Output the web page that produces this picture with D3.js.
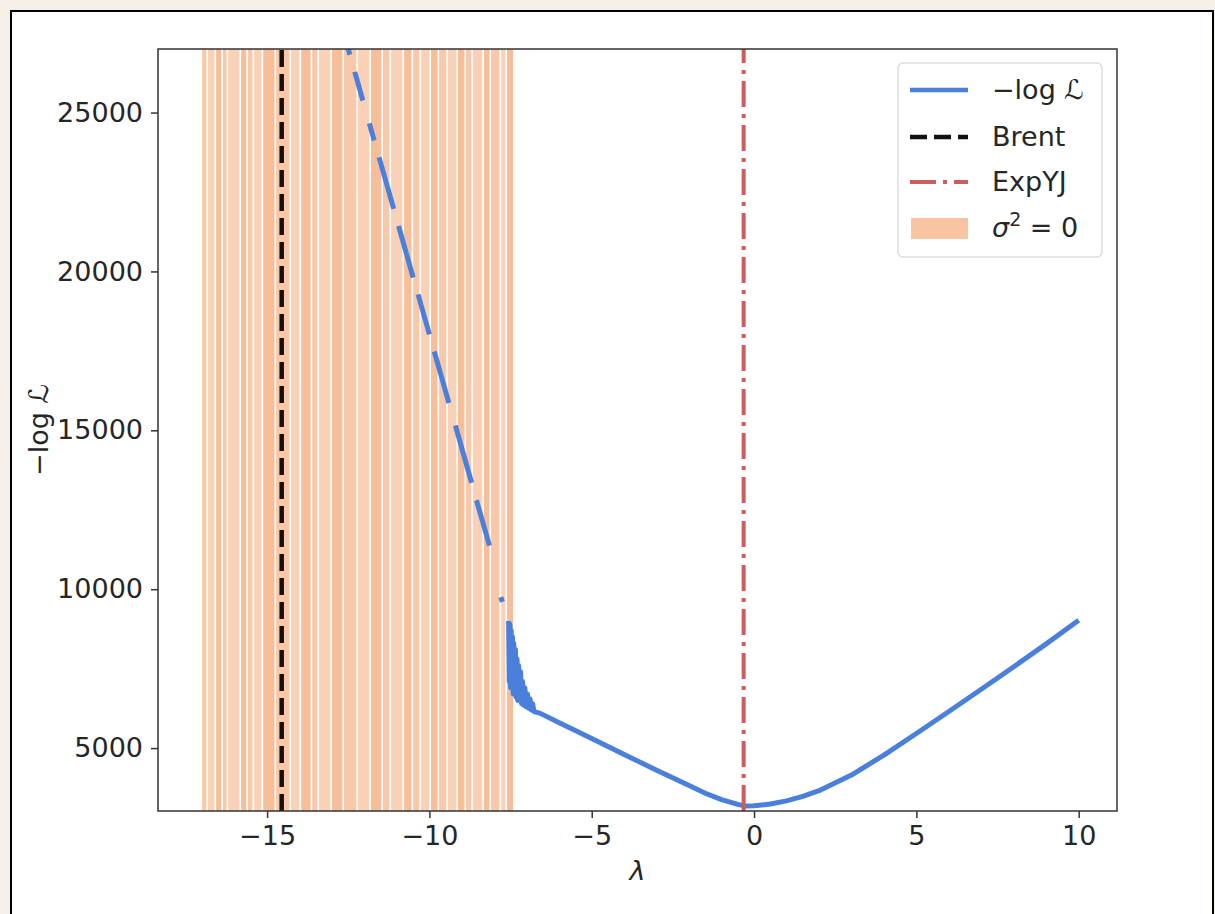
<!DOCTYPE html>
<html lang="en">
<head>
<meta charset="utf-8">
<title>-log L vs lambda</title>
<script src="https://cdn.jsdelivr.net/npm/d3@7"></script>
<style>
  body { margin: 0; background: #f6efe7; }
  text { font-family: "DejaVu Sans", sans-serif; fill: #262626; }
</style>
</head>
<body>
<script>
// lambda grid and -log L values (null = gap in the curve)
var lam = [-12.6, -12.45, null, -12.3, -12.05, null, -11.85, -11.7, null, -11.55, -11.1, null,
  -10.95, -10.5, null, -10.35, -10.0, null, -9.85, -9.4, null, -9.2, -8.7, null, -8.55, -8.15, null,
  -7.8, -7.75, null,
  -7.56, -7.54, -7.52, -7.5, -7.48, -7.46, -7.44, -7.42, -7.4, -7.38, -7.35, -7.33, -7.3, -7.28,
  -7.25, -7.22, -7.19, -7.16, -7.13, -7.1, -7.06, -7.02, -6.98, -6.94, -6.9, -6.86, -6.82, -6.78,
  -6.6, -6.0, -5.0, -4.0, -3.0, -2.0, -1.5, -1.0, -0.5, -0.3, 0.0, 0.5, 1.0, 1.5, 2.0, 3.0, 4.0,
  5.0, 6.0, 7.0, 8.0, 9.0, 10.0];
var nll = [27360, 26820, null, 26280, 25380, null, 24660, 24120, null, 23590, 21970, null,
  21430, 19810, null, 19280, 18020, null, 17480, 15860, null, 15150, 13350, null, 12800, 11370, null,
  9750, 9600, null,
  9000, 7100, 8900, 6900, 8700, 7000, 8500, 6700, 8300, 6800, 8100, 6600, 7800, 6500,
  7600, 6500, 7400, 6400, 7100, 6350, 6900, 6300, 6700, 6250, 6550, 6200, 6400, 6150,
  6100, 5800, 5300, 4800, 4300, 3820, 3580, 3380, 3230, 3180, 3185, 3240, 3340, 3480, 3660, 4150, 4780,
  5460, 6150, 6850, 7560, 8280, 9020];

// regions where sigma^2 = 0 (start, end in lambda)
var bandStart = [-17.0, -16.82, -16.57, -16.36, -16.20, -15.80, -15.59, -15.40, -15.12, -14.72,
  -14.26, -13.95, -13.61, -13.40, -13.00, -12.63, -12.20, -11.80, -11.43, -11.18, -10.78, -10.50,
  -10.26, -9.95, -9.70, -9.43, -9.12, -8.87, -8.66, -8.32, -8.10, -7.79, -7.61];
var bandEnd = [-16.87, -16.62, -16.41, -16.25, -15.85, -15.64, -15.45, -15.17, -14.77, -14.31,
  -14.00, -13.66, -13.45, -13.05, -12.68, -12.25, -11.85, -11.48, -11.23, -10.83, -10.55, -10.31,
  -10.00, -9.75, -9.48, -9.17, -8.92, -8.71, -8.37, -8.15, -7.84, -7.66, -7.42];

var brent = -14.55;
var expYJ = -0.32;

var xTicks = [-15, -10, -5, 0, 5, 10];
var yTicks = [5000, 10000, 15000, 20000, 25000];

var W = 1215, H = 914;
var pLeft = 158, pRight = 1117, pTop = 49, pBottom = 811;

var svg = d3.select("body").append("svg")
  .attr("width", W).attr("height", H);

// white panel with black border
svg.append("rect")
  .attr("x", 11).attr("y", 11).attr("width", 1202).attr("height", 920)
  .attr("fill", "white").attr("stroke", "black").attr("stroke-width", 2);

var x = d3.scaleLinear().domain([-18.36, 11.18]).range([pLeft, pRight]);
var y = d3.scaleLinear().domain([3020, 27000]).range([pBottom, pTop]);

svg.append("clipPath").attr("id", "clip")
  .append("rect").attr("x", pLeft).attr("y", pTop)
  .attr("width", pRight - pLeft).attr("height", pBottom - pTop);

var plot = svg.append("g").attr("clip-path", "url(#clip)");

// orange bands
plot.selectAll("rect.band")
  .data(d3.range(bandStart.length))
  .enter().append("rect")
  .attr("class", "band")
  .attr("x", function(i) { return x(bandStart[i]); })
  .attr("width", function(i) { return x(bandEnd[i]) - x(bandStart[i]); })
  .attr("y", pTop).attr("height", pBottom - pTop)
  .attr("fill", "#f4a46e")
  .attr("opacity", function(i) { return i % 3 == 1 ? 0.5 : (i % 3 == 2 ? 0.7 : 0.6); });

// the curve
var pts = lam.map(function(d, i) { return { x: d, y: nll[i] }; });
var line = d3.line()
  .defined(function(d) { return d.x != null && d.y != null; })
  .x(function(d) { return x(d.x); })
  .y(function(d) { return y(d.y); });

plot.append("path")
  .datum(pts)
  .attr("d", line)
  .attr("fill", "none")
  .attr("stroke", "#4a7fdc")
  .attr("stroke-width", 5)
  .attr("stroke-linejoin", "round");

// Brent
plot.append("line")
  .attr("x1", x(brent)).attr("x2", x(brent))
  .attr("y1", pBottom).attr("y2", pTop)
  .attr("stroke", "#111").attr("stroke-width", 4.5)
  .attr("stroke-dasharray", "17,7");

// ExpYJ
plot.append("line")
  .attr("x1", x(expYJ)).attr("x2", x(expYJ))
  .attr("y1", pBottom).attr("y2", pTop)
  .attr("stroke", "#cd5c5c").attr("stroke-width", 4)
  .attr("stroke-dasharray", "26,7,4,7");

// frame
svg.append("rect")
  .attr("x", pLeft).attr("y", pTop)
  .attr("width", pRight - pLeft).attr("height", pBottom - pTop)
  .attr("fill", "none").attr("stroke", "#333").attr("stroke-width", 1.5);

// axes
var xAxis = svg.append("g")
  .attr("transform", "translate(0," + pBottom + ")")
  .call(d3.axisBottom(x).tickValues(xTicks).tickSize(7).tickPadding(8)
    .tickFormat(function(d) { return d < 0 ? "\u2212" + Math.abs(d) : d; }));
var yAxis = svg.append("g")
  .attr("transform", "translate(" + pLeft + ",0)")
  .call(d3.axisLeft(y).tickValues(yTicks).tickSize(7).tickPadding(8)
    .tickFormat(d3.format("d")));

[xAxis, yAxis].forEach(function(a) {
  a.select(".domain").remove();
  a.selectAll(".tick line").attr("stroke", "#333").attr("stroke-width", 1.5);
  a.selectAll("text").style("font-size", "27px").attr("fill", "#262626");
});

// axis labels
svg.append("text")
  .attr("x", (pLeft + pRight) / 2).attr("y", 880)
  .attr("text-anchor", "middle")
  .style("font-size", "27px").style("font-style", "italic")
  .text("\u03bb");

svg.append("text")
  .attr("transform", "translate(48," + (pTop + pBottom) / 2 + ") rotate(-90)")
  .attr("text-anchor", "middle")
  .style("font-size", "27px")
  .text("\u2212log \u2112");

// legend
var lg = svg.append("g");
lg.append("rect")
  .attr("x", 898).attr("y", 63).attr("width", 204).attr("height", 194)
  .attr("rx", 5).attr("fill", "white").attr("stroke", "#ddd").attr("stroke-width", 1.5);

var ly = [90, 137, 182, 228];
lg.append("line").attr("x1", 910).attr("x2", 968).attr("y1", ly[0]).attr("y2", ly[0])
  .attr("stroke", "#4a7fdc").attr("stroke-width", 4.5);
lg.append("line").attr("x1", 910).attr("x2", 968).attr("y1", ly[1]).attr("y2", ly[1])
  .attr("stroke", "#111").attr("stroke-width", 4.5).attr("stroke-dasharray", "17,7");
lg.append("line").attr("x1", 910).attr("x2", 968).attr("y1", ly[2]).attr("y2", ly[2])
  .attr("stroke", "#cd5c5c").attr("stroke-width", 4).attr("stroke-dasharray", "26,7,4,7");
lg.append("rect").attr("x", 911).attr("y", ly[3] - 10).attr("width", 57).attr("height", 21)
  .attr("fill", "#f4a46e").attr("opacity", 0.65);

var labels = ["\u2212log \u2112", "Brent", "ExpYJ"];
labels.forEach(function(t, i) {
  lg.append("text").attr("x", 992).attr("y", ly[i] + 9)
    .style("font-size", "27px").text(t);
});
var sig = lg.append("text").attr("x", 992).attr("y", ly[3] + 9).style("font-size", "27px");
sig.append("tspan").style("font-style", "italic").text("\u03c3");
sig.append("tspan").attr("dy", -11).style("font-size", "19px").text("2");
sig.append("tspan").attr("dy", 11).text(" = 0");
</script>
</body>
</html>
